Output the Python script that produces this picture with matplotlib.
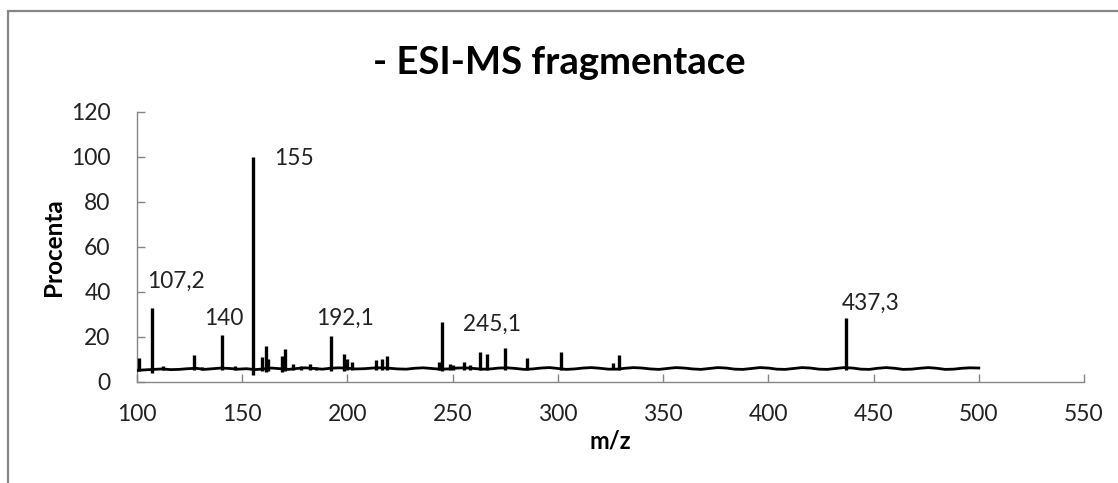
import matplotlib
matplotlib.use("Agg")
import matplotlib.pyplot as plt
from matplotlib.patches import Rectangle

plt.rcParams['font.family'] = ['Lato', 'DejaVu Sans']

# ---- data ----
title = "- ESI-MS fragmentace"
x_label = "m/z"
y_label = "Procenta"

# wavy baseline of the spectrum (m/z, %)
baseline_mz = [100, 104, 108, 112, 116, 120, 124, 128, 132, 136, 140, 144, 148,
               152, 156, 160, 164, 168, 172, 176, 180, 184, 188, 192, 196, 200,
               204, 208, 212, 216, 220, 224, 228, 232, 236, 240, 244, 248, 252,
               256, 260, 264, 268, 272, 276, 280, 284, 288, 292, 296, 300, 304,
               308, 312, 316, 320, 324, 328, 332, 336, 340, 344, 348, 352, 356,
               360, 364, 368, 372, 376, 380, 384, 388, 392, 396, 400, 404, 408,
               412, 416, 420, 424, 428, 432, 436, 440, 444, 448, 452, 456, 460,
               464, 468, 472, 476, 480, 484, 488, 492, 496, 500]
baseline_int = [5.2, 5.4, 5.6, 5.8, 5.5, 5.6, 5.9, 6.1, 5.6, 5.9, 6.2, 6.0, 5.7,
                5.9, 5.5, 5.8, 6.2, 5.9, 5.6, 6.0, 6.3, 6.0, 5.7, 6.1, 6.3, 6.1,
                5.8, 5.9, 6.2, 6.3, 6.1, 5.8, 5.7, 6.1, 6.3, 6.0, 5.7, 5.8, 6.2,
                6.3, 6.0, 5.7, 5.8, 6.2, 6.3, 6.0, 5.6, 5.8, 6.2, 6.4, 6.0, 5.6,
                5.8, 6.2, 6.4, 6.1, 5.7, 5.7, 6.1, 6.4, 6.2, 5.8, 5.6, 6.0, 6.4,
                6.2, 5.8, 5.6, 6.0, 6.4, 6.2, 5.7, 5.6, 6.0, 6.4, 6.2, 5.7, 5.6,
                6.0, 6.4, 6.2, 5.7, 5.6, 6.0, 6.4, 6.2, 5.7, 5.6, 6.1, 6.4, 6.1,
                5.6, 5.7, 6.1, 6.4, 6.1, 5.6, 5.7, 6.1, 6.3, 6.2]

# spectral peaks: position, top, foot
peak_mz = [101.0, 107.2, 112.5, 127.2, 131.0, 140.3, 146.5, 155.0, 159.5,
           161.2, 162.2, 168.8, 170.4, 174.0, 177.8, 182.0, 185.0, 192.3,
           198.6, 199.9, 202.0, 213.7, 216.2, 218.8, 243.6, 245.1, 248.9,
           250.2, 255.2, 258.0, 262.8, 266.3, 275.1, 285.1, 301.4, 326.1,
           329.1, 436.8]
peak_top = [10.5, 33.0, 7.2, 12.0, 6.6, 21.0, 7.0, 100.0, 11.0,
            16.0, 10.0, 11.6, 14.6, 8.0, 7.0, 8.0, 6.6, 20.5,
            12.4, 10.0, 9.0, 9.9, 10.0, 11.6, 9.0, 26.7, 8.2,
            7.5, 8.7, 7.5, 13.1, 12.4, 14.9, 10.5, 13.1, 8.4,
            11.9, 28.6]
peak_foot = [5.0, 4.2, 5.5, 5.5, 5.5, 5.5, 5.5, 3.3, 5.0,
             4.5, 5.0, 4.5, 4.8, 5.5, 5.5, 5.5, 5.5, 5.0,
             5.0, 5.2, 5.5, 5.5, 5.5, 5.5, 5.5, 5.0, 5.5,
             5.5, 5.5, 5.5, 5.3, 5.3, 5.3, 5.5, 5.3, 5.6,
             5.4, 5.5]

# annotations: text, x (m/z), y (%)
ann_text = ["107,2", "140", "155", "192,1", "245,1", "437,3"]
ann_x = [104.7, 131.8, 165.0, 185.0, 254.7, 435.0]
ann_y = [44.5, 28.3, 99.2, 28.3, 25.7, 35.0]

x_ticks = [100, 150, 200, 250, 300, 350, 400, 450, 500, 550]
y_ticks = [0, 20, 40, 60, 80, 100, 120]

# ---- figure ----
fig = plt.figure(figsize=(11.18, 4.83), dpi=100)
fig.patch.set_facecolor("white")
# outer chart frame (left and top visible)
fig.add_artist(Rectangle((8 / 1118, -0.05), 1.2, (483 - 11) / 483 + 0.05,
                         transform=fig.transFigure, fill=False,
                         edgecolor="#868686", linewidth=1.6))

ax = fig.add_axes([137 / 1118, (483 - 382) / 483,
                   (1084 - 137) / 1118, (382 - 111.7) / 483])

ax.plot(baseline_mz, baseline_int, color="black", linewidth=2.0,
        solid_joinstyle="round", zorder=3)
ax.vlines(peak_mz, peak_foot, peak_top, color="black", linewidth=2.4, zorder=3)

for t, x, y in zip(ann_text, ann_x, ann_y):
    ax.text(x, y, t, ha="left", va="center", fontsize=16.3, color="#222222")

ax.set_xlim(100, 550)
ax.set_ylim(0, 120)
ax.set_xticks(x_ticks)
ax.set_yticks(y_ticks)
ax.set_xticklabels([str(v) for v in x_ticks])
ax.set_yticklabels([str(v) for v in y_ticks])

for s in ["top", "right"]:
    ax.spines[s].set_visible(False)
for s in ["left", "bottom"]:
    ax.spines[s].set_color("#868686")
    ax.spines[s].set_linewidth(1.0)

ax.tick_params(axis="both", direction="in", color="#868686", length=6,
               width=1.0, labelsize=16.5, labelcolor="#222222")
ax.tick_params(axis="y", pad=19)
ax.tick_params(axis="x", pad=16)

ax.set_xlabel(x_label, fontsize=17, fontweight="bold", labelpad=3)
ax.set_ylabel(y_label, fontsize=17.5, fontweight="bold", labelpad=4)

fig.text(0.5, (483 - 63) / 483, title, ha="center", va="center",
         fontsize=27.5, fontweight="bold", color="black")

fig.savefig("out.png", dpi=100, facecolor="white")
